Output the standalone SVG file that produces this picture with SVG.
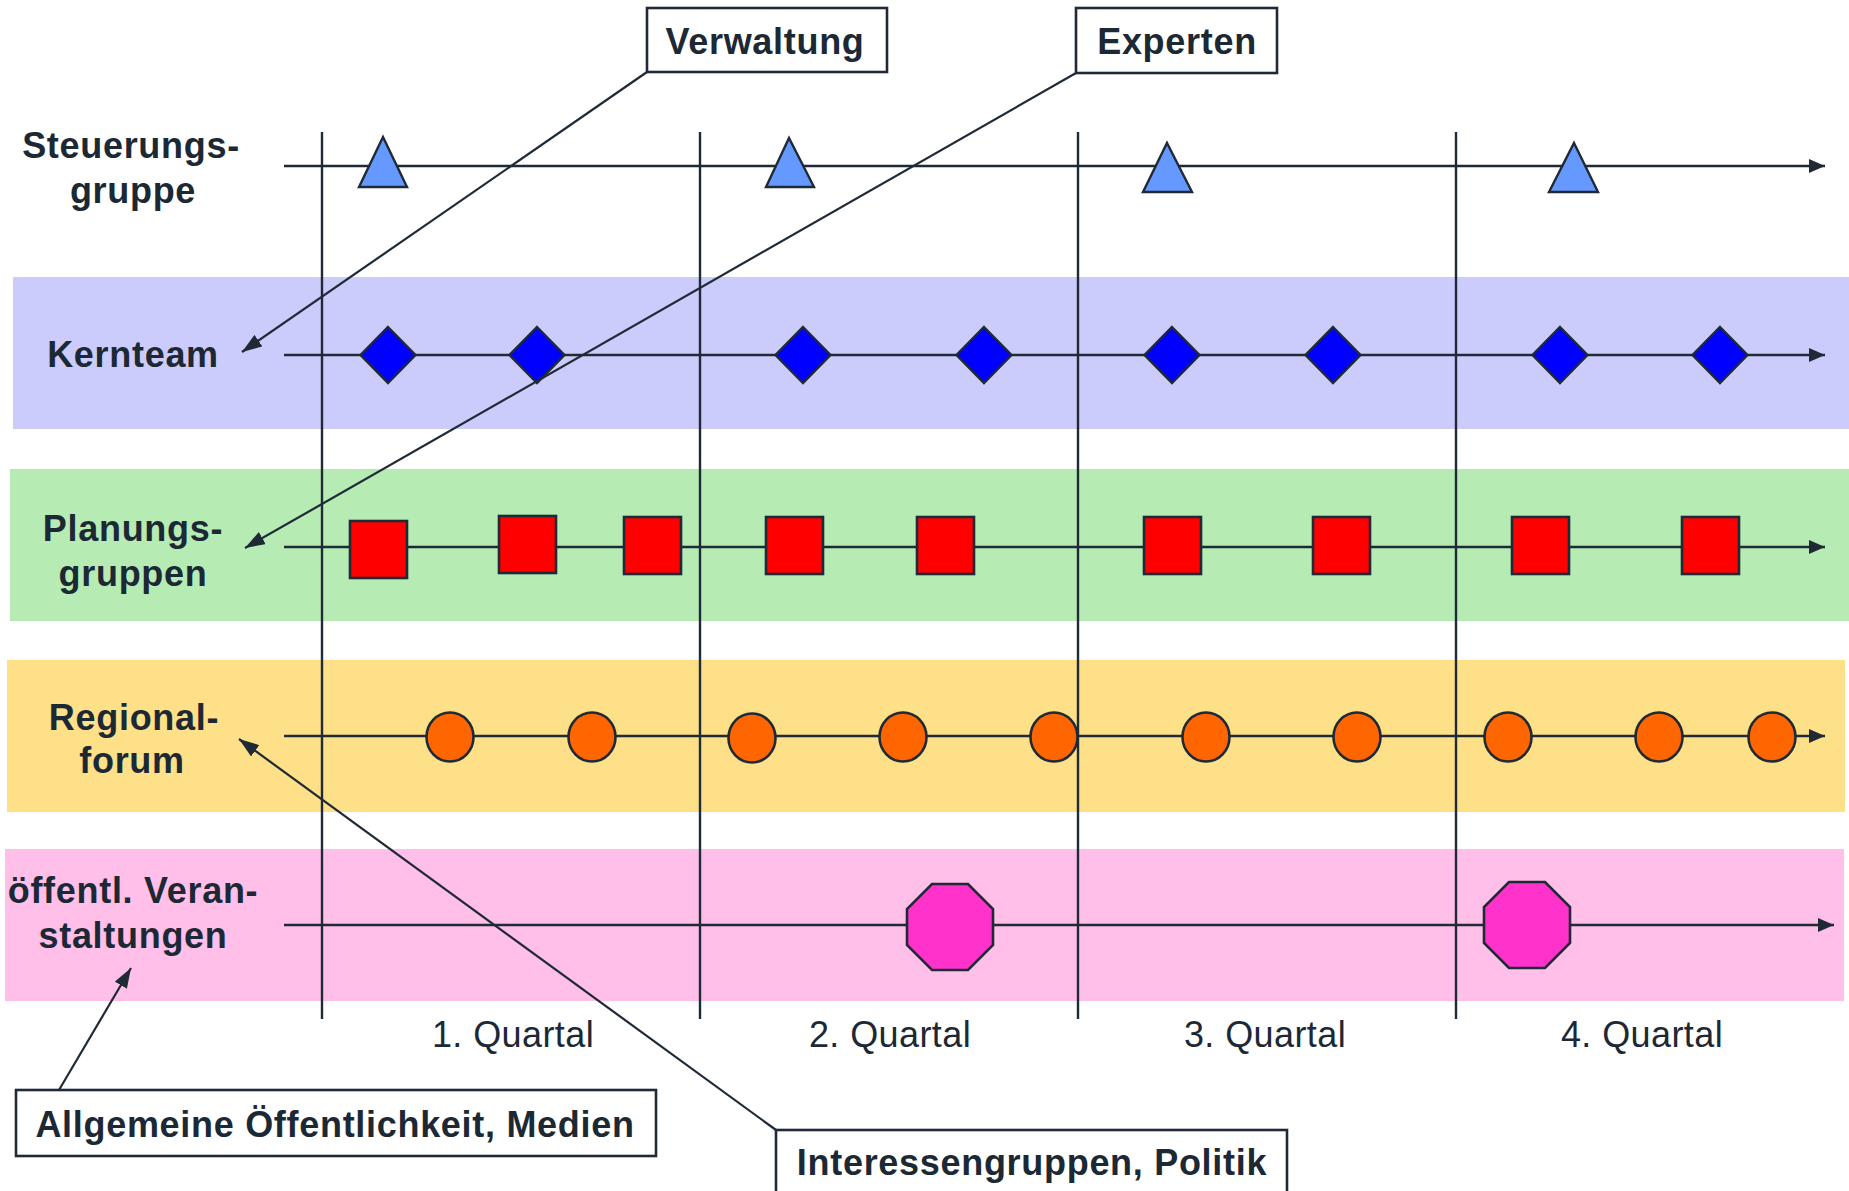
<svg xmlns="http://www.w3.org/2000/svg" width="1849" height="1191" viewBox="0 0 1849 1191">
<style>
.lbl{font-family:"Liberation Sans",Arial,sans-serif;font-weight:bold;font-size:36px;letter-spacing:0.7px;fill:#1c2935;text-anchor:middle}
.q{font-family:"Liberation Sans",Arial,sans-serif;font-size:36px;letter-spacing:0.4px;fill:#1c2935;text-anchor:middle}
.ax{stroke:#1f2a36;stroke-width:2.6;fill:none}
.vl{stroke:#1f2a36;stroke-width:2.4;fill:none}
.cn{stroke:#1f2a36;stroke-width:2.2;fill:none}
.box{fill:#ffffff;stroke:#1f2a36;stroke-width:2.6}
.tri{fill:#6699ff;stroke:#1f2a36;stroke-width:2.4}
.dia{fill:#0000ff;stroke:#1f2a36;stroke-width:2.4}
.sq{fill:#ff0000;stroke:#1f2a36;stroke-width:2.6}
.ci{fill:#ff6600;stroke:#1f2a36;stroke-width:2.6}
.oc{fill:#ff33cc;stroke:#1f2a36;stroke-width:2.6}
</style>
<defs>
<marker id="axhead" markerUnits="userSpaceOnUse" markerWidth="16" markerHeight="14" refX="16" refY="7" orient="auto">
<path d="M0,0 L16,7 L0,14 z" fill="#1f2a36"/>
</marker>
<marker id="cnhead" markerUnits="userSpaceOnUse" markerWidth="20" markerHeight="14" refX="20" refY="7" orient="auto">
<path d="M0,0 L20,7 L0,14 z" fill="#1f2a36"/>
</marker>
</defs>
<rect x="0" y="0" width="1849" height="1191" fill="#ffffff"/>
<g id="bands">
<rect x="13" y="277" width="1836" height="152" fill="#ccccfc"/>
<rect x="10" y="469" width="1839" height="152" fill="#b6ecb4"/>
<rect x="7" y="660" width="1838" height="152" fill="#fde088"/>
<rect x="5" y="849" width="1839" height="152" fill="#ffbfe8"/>
</g>
<g id="grid">
<line class="vl" x1="322" y1="132" x2="322" y2="1019"/>
<line class="vl" x1="700" y1="132" x2="700" y2="1019"/>
<line class="vl" x1="1078" y1="132" x2="1078" y2="1019"/>
<line class="vl" x1="1456" y1="132" x2="1456" y2="1019"/>
</g>
<g id="axes">
<line class="ax" x1="284" y1="166" x2="1825" y2="166" marker-end="url(#axhead)"/>
<line class="ax" x1="284" y1="355" x2="1825" y2="355" marker-end="url(#axhead)"/>
<line class="ax" x1="284" y1="547" x2="1825" y2="547" marker-end="url(#axhead)"/>
<line class="ax" x1="284" y1="736" x2="1825" y2="736" marker-end="url(#axhead)"/>
<line class="ax" x1="284" y1="925" x2="1834" y2="925" marker-end="url(#axhead)"/>
</g>
<g id="steuerung-events">
<polygon class="tri" points="383,137 407,187 359,187"/>
<polygon class="tri" points="789,138 814,187 766,187"/>
<polygon class="tri" points="1167,143 1192,192 1143,192"/>
<polygon class="tri" points="1574,143 1598,192 1549,192"/>
</g>
<g id="kernteam-events">
<polygon class="dia" points="388,327 415.5,355 388,383 360.5,355"/>
<polygon class="dia" points="537,327 564.5,355 537,383 509.5,355"/>
<polygon class="dia" points="803,327 830.5,355 803,383 775.5,355"/>
<polygon class="dia" points="984,327 1011.5,355 984,383 956.5,355"/>
<polygon class="dia" points="1172,327 1199.5,355 1172,383 1144.5,355"/>
<polygon class="dia" points="1333,327 1360.5,355 1333,383 1305.5,355"/>
<polygon class="dia" points="1560,327 1587.5,355 1560,383 1532.5,355"/>
<polygon class="dia" points="1720,327 1747.5,355 1720,383 1692.5,355"/>
</g>
<g id="planung-events">
<rect class="sq" x="350" y="521" width="57" height="57"/>
<rect class="sq" x="499" y="516" width="57" height="57"/>
<rect class="sq" x="624" y="517" width="57" height="57"/>
<rect class="sq" x="766" y="517" width="57" height="57"/>
<rect class="sq" x="917" y="517" width="57" height="57"/>
<rect class="sq" x="1144" y="517" width="57" height="57"/>
<rect class="sq" x="1313" y="517" width="57" height="57"/>
<rect class="sq" x="1512" y="517" width="57" height="57"/>
<rect class="sq" x="1682" y="517" width="57" height="57"/>
</g>
<g id="regional-events">
<ellipse class="ci" cx="450" cy="737" rx="23.5" ry="24.5"/>
<ellipse class="ci" cx="592" cy="737" rx="23.5" ry="24.5"/>
<ellipse class="ci" cx="752" cy="738" rx="23.5" ry="24.5"/>
<ellipse class="ci" cx="903" cy="737" rx="23.5" ry="24.5"/>
<ellipse class="ci" cx="1054" cy="737" rx="23.5" ry="24.5"/>
<ellipse class="ci" cx="1206" cy="737" rx="23.5" ry="24.5"/>
<ellipse class="ci" cx="1357" cy="737" rx="23.5" ry="24.5"/>
<ellipse class="ci" cx="1508" cy="737" rx="23.5" ry="24.5"/>
<ellipse class="ci" cx="1659" cy="737" rx="23.5" ry="24.5"/>
<ellipse class="ci" cx="1772" cy="737" rx="23.5" ry="24.5"/>
</g>
<g id="oeffentl-events">
<polygon class="oc" points="932,884 968,884 993,909 993,945 968,970 932,970 907,945 907,909"/>
<polygon class="oc" points="1509,882 1545,882 1570,907 1570,943 1545,968 1509,968 1484,943 1484,907"/>
</g>
<g id="row-labels">
<text class="lbl" x="131" y="158">Steuerungs-</text>
<text class="lbl" x="133" y="203">gruppe</text>
<text class="lbl" x="133" y="367">Kernteam</text>
<text class="lbl" x="133" y="541">Planungs-</text>
<text class="lbl" x="133" y="586">gruppen</text>
<text class="lbl" x="134" y="730">Regional-</text>
<text class="lbl" x="132" y="773">forum</text>
<text class="lbl" x="133" y="903">öffentl. Veran-</text>
<text class="lbl" x="133" y="948">staltungen</text>
</g>
<g id="quarters">
<text class="q" x="513" y="1047">1. Quartal</text>
<text class="q" x="890" y="1047">2. Quartal</text>
<text class="q" x="1265" y="1047">3. Quartal</text>
<text class="q" x="1642" y="1047">4. Quartal</text>
</g>
<g id="connectors">
<line class="cn" x1="647" y1="72" x2="242" y2="352" marker-end="url(#cnhead)"/>
<line class="cn" x1="1076" y1="73" x2="245" y2="548" marker-end="url(#cnhead)"/>
<line class="cn" x1="776" y1="1130" x2="239" y2="739" marker-end="url(#cnhead)"/>
<line class="cn" x1="59" y1="1090" x2="131" y2="968" marker-end="url(#cnhead)"/>
</g>
<g id="node-verwaltung">
<rect class="box" x="647" y="8" width="240" height="64"/>
<text class="lbl" x="765" y="54">Verwaltung</text>
</g>
<g id="node-experten">
<rect class="box" x="1076" y="8" width="201" height="65"/>
<text class="lbl" x="1177" y="54">Experten</text>
</g>
<g id="node-allgemeine">
<rect class="box" x="16" y="1090" width="640" height="66"/>
<text class="lbl" x="335" y="1137">Allgemeine Öffentlichkeit, Medien</text>
</g>
<g id="node-interessen">
<rect class="box" x="776" y="1130" width="511" height="80"/>
<text class="lbl" x="1032" y="1175">Interessengruppen, Politik</text>
</g>
</svg>
